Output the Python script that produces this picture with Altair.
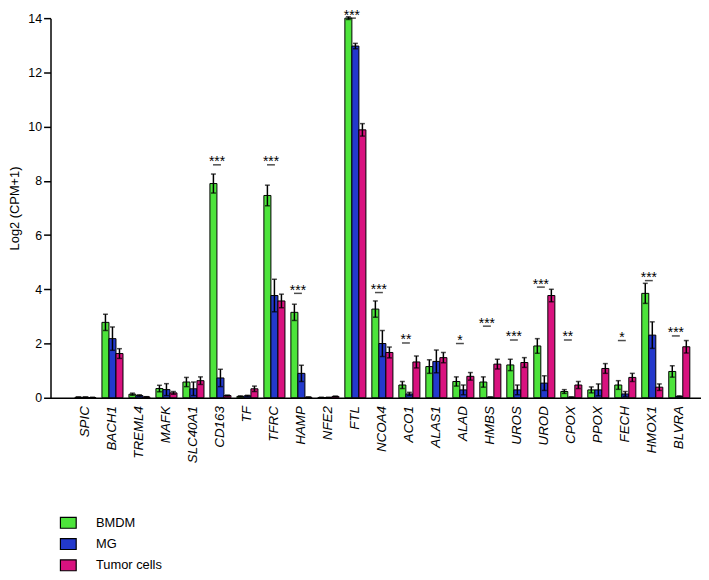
import altair as alt
import pandas as pd

genes = ["SPIC", "BACH1", "TREML4", "MAFK", "SLC40A1", "CD163", "TF", "TFRC", "HAMP", "NFE2",
         "FTL", "NCOA4", "ACO1", "ALAS1", "ALAD", "HMBS", "UROS", "UROD", "CPOX", "PPOX",
         "FECH", "HMOX1", "BLVRA"]
groups = ["BMDM", "MG", "Tumor cells"]
colors = ["#4de43b", "#2339cc", "#d9127f"]

bmdm = [0.02, 2.78, 0.13, 0.34, 0.58, 7.90, 0.05, 7.46, 3.15, 0.01,
        14.00, 3.27, 0.47, 1.15, 0.60, 0.58, 1.21, 1.91, 0.23, 0.29,
        0.47, 3.85, 0.97]
mg = [0.02, 2.18, 0.08, 0.30, 0.33, 0.73, 0.07, 3.77, 0.90, 0.01,
      12.97, 2.00, 0.14, 1.34, 0.29, 0.02, 0.29, 0.54, 0.02, 0.29,
      0.14, 2.31, 0.05]
tumor = [0.01, 1.63, 0.03, 0.18, 0.63, 0.08, 0.33, 3.57, 0.02, 0.05,
         9.88, 1.67, 1.32, 1.48, 0.79, 1.24, 1.30, 3.77, 0.47, 1.08,
         0.75, 0.39, 1.88]
bmdm_err = [0.01, 0.30, 0.04, 0.12, 0.17, 0.35, 0.02, 0.38, 0.30, 0.01,
            0.05, 0.30, 0.13, 0.25, 0.17, 0.19, 0.21, 0.27, 0.07, 0.11,
            0.16, 0.37, 0.21]
mg_err = [0.01, 0.43, 0.03, 0.22, 0.25, 0.32, 0.02, 0.60, 0.30, 0.01,
          0.10, 0.48, 0.06, 0.42, 0.18, 0.01, 0.18, 0.27, 0.01, 0.22,
          0.09, 0.49, 0.02]
tumor_err = [0.01, 0.18, 0.01, 0.05, 0.14, 0.02, 0.10, 0.25, 0.01, 0.01,
             0.23, 0.20, 0.22, 0.19, 0.14, 0.18, 0.18, 0.23, 0.13, 0.18,
             0.15, 0.12, 0.23]

sig_genes = ["CD163", "TFRC", "HAMP", "FTL", "NCOA4", "ACO1", "ALAD", "HMBS", "UROS",
             "UROD", "CPOX", "FECH", "HMOX1", "BLVRA"]
sig_labels = ["***", "***", "***", "***", "***", "**", "*", "***", "***",
              "***", "**", "*", "***", "***"]
sig_levels = [8.59, 8.59, 3.85, 14.0, 3.88, 2.02, 2.00, 2.64, 2.13,
              4.08, 2.13, 2.11, 4.32, 2.28]

rows = []
caps = []
for series_name, vals, errs in zip(groups, [bmdm, mg, tumor], [bmdm_err, mg_err, tumor_err]):
    for g, v, e in zip(genes, vals, errs):
        lo = max(v - e, 0)
        hi = v + e
        rows.append({"gene": g, "group": series_name, "value": v, "lo": lo, "hi": hi})
        caps.append({"gene": g, "group": series_name, "cap": lo})
        caps.append({"gene": g, "group": series_name, "cap": hi})
df = pd.DataFrame(rows)
df_caps = pd.DataFrame(caps)
df_sig = pd.DataFrame({"gene": sig_genes, "label": sig_labels, "level": sig_levels})

TITLE = "Log2 (CPM+1)"
yscale = alt.Scale(domain=[0, 14], nice=False, zero=True)
yaxis = alt.Axis(values=[0, 2, 4, 6, 8, 10, 12, 14], title=TITLE, grid=False,
                 tickSize=7, tickWidth=1.5, tickColor="black", domainColor="black",
                 domainWidth=1.5, labelFontSize=12.5, labelColor="black", labelPadding=2,
                 titleFontSize=13, titleFontWeight="normal", titleColor="black",
                 titleX=-36, titleY=192, titleBaseline="middle")

X = alt.X("gene:N", sort=genes,
          scale=alt.Scale(paddingInner=0.22, paddingOuter=0.66, align=0.686),
          axis=alt.Axis(title=None, labelAngle=270, labelFontStyle="italic",
                        labelFontSize=13.5, labelColor="black", ticks=False, tickSize=0,
                        labelPadding=8, domainColor="black", domainWidth=1.5))
XO = alt.XOffset("group:N", sort=groups)

bars = alt.Chart(df).mark_bar(stroke="black", strokeWidth=1).encode(
    x=X, xOffset=XO,
    y=alt.Y("value:Q", scale=yscale, axis=yaxis),
    color=alt.Color("group:N", sort=groups,
                    scale=alt.Scale(domain=groups, range=colors),
                    legend=alt.Legend(title=None, orient="none", direction="vertical",
                                      legendX=11.5, legendY=504,
                                      symbolType="M-1.45,-1H1.45V1H-1.45Z",
                                      symbolSize=121, symbolStrokeColor="black",
                                      symbolStrokeWidth=1.2, symbolOpacity=1,
                                      labelFontSize=13, labelColor="black",
                                      labelOffset=21.5, rowPadding=4.5, padding=0)),
)

errs = alt.Chart(df).mark_rule(color="black", strokeWidth=1.5).encode(
    x=X, xOffset=XO,
    y=alt.Y("lo:Q", scale=yscale, axis=yaxis),
    y2="hi:Q",
)

cap_marks = alt.Chart(df_caps).mark_tick(color="black", size=5, thickness=1.5).encode(
    x=X, xOffset=XO,
    y=alt.Y("cap:Q", scale=yscale, axis=yaxis),
)

stars = alt.Chart(df_sig).mark_text(fontSize=14, dx=-3.5, dy=1.5, baseline="alphabetic",
                                    color="black").encode(
    x=X,
    y=alt.Y("level:Q", scale=yscale, axis=yaxis),
    text="label:N",
)

underline = alt.Chart(df_sig).mark_tick(color="black", size=8, thickness=1.5,
                                        xOffset=-3.5).encode(
    x=X,
    y=alt.Y("level:Q", scale=yscale, axis=yaxis),
)

chart = alt.layer(bars, errs, cap_marks, underline, stars).properties(
    width=658, height=384,
    padding={"left": 43, "top": 7, "right": 0, "bottom": 173},
    autosize=alt.AutoSizeParams(type="none"),
).configure(font="Liberation Sans").configure_view(stroke=None)

chart.save("out.html", embed_options={"renderer": "svg", "actions": False})
